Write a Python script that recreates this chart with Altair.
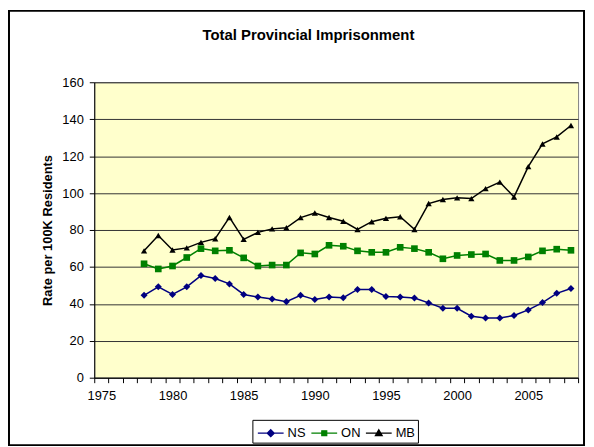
import altair as alt
import pandas as pd

years = list(range(1978, 2009))
series_names = ["NS", "ON", "MB"]
ns = [44.6, 49.2, 45.1, 49.2, 55.3, 53.7, 50.8, 45.1, 43.7, 42.6, 41.2, 44.6, 42.3, 43.7, 43.3, 47.8,
      47.8, 44.0, 43.7, 43.2, 40.5, 37.6, 37.6, 33.3, 32.3, 32.3, 33.7, 36.7, 40.7, 45.7, 48.3]
on = [61.7, 58.9, 60.5, 65.1, 69.9, 68.7, 69.0, 64.9, 60.5, 61.0, 61.0, 67.6, 67.0, 71.7, 71.2, 68.7,
      67.9, 67.9, 70.6, 69.9, 67.9, 64.4, 66.2, 66.7, 67.0, 63.5, 63.5, 65.4, 68.7, 69.6, 69.0]
mb = [68.7, 77.0, 69.2, 70.3, 73.3, 75.3, 86.8, 74.9, 78.7, 80.6, 81.2, 86.7, 89.2, 86.8, 84.7, 80.3,
      84.5, 86.3, 87.2, 80.3, 94.3, 96.5, 97.4, 97.0, 102.4, 105.9, 97.9, 114.3, 126.6, 130.4, 136.6]
y_ticks = [0, 20, 40, 60, 80, 100, 120, 140, 160]
x_first, x_last = 1975, 2008

colors = ["#000080", "#008000", "#000000"]
shapes = ["diamond", "square", "triangle-up"]
sizes = [50, 40, 64]
legend_paths = [
    "M-1,0H1M0,-0.27L0.27,0L0,0.27L-0.27,0Z",
    "M-1,0H1M-0.19,-0.19H0.19V0.19H-0.19Z",
    "M-1,0H1M0,-0.26L0.26,0.19H-0.26Z",
]
legend_x = [164, 218, 273]

rows = []
for name, vals in zip(series_names, [ns, on, mb]):
    for y, v in zip(years, vals):
        rows.append({"year": y, "series": name, "rate": v})
df = pd.DataFrame(rows)

boundaries = [x_first - 0.5 + i for i in range(x_last - x_first + 2)]
W, H = 488, 298
half = W / (x_last - x_first + 1) / 2

x_enc = alt.X(
    "year:Q",
    scale=alt.Scale(domain=[x_first - 0.5, x_last + 0.5], nice=False, zero=False),
    axis=alt.Axis(
        values=boundaries,
        labelExpr="(datum.value + 0.5) % 5 == 0 ? format(datum.value + 0.5, 'd') : ''",
        labelOffset=half,
        labelFlush=False,
        labelOverlap=False,
        tickSize=5,
        labelPadding=7,
        grid=False,
        title=None,
    ),
)
y_enc = alt.Y(
    "rate:Q",
    scale=alt.Scale(domain=[0, 160], nice=False),
    axis=alt.Axis(
        values=y_ticks,
        title="Rate per 100K Residents",
        titleFontWeight="bold",
        titleFontSize=13,
        titlePadding=7,
        tickSize=5,
        labelPadding=6,
        grid=True,
        gridColor="#333333",
    ),
)
color_enc = alt.Color("series:N", scale=alt.Scale(domain=series_names, range=colors), legend=None)

base = alt.Chart(df)
lines = base.mark_line(strokeWidth=1.5).encode(x=x_enc, y=y_enc, color=color_enc)
points = base.mark_point(filled=True, opacity=1).encode(
    x=x_enc, y=y_enc, color=color_enc,
    shape=alt.Shape("series:N", scale=alt.Scale(domain=series_names, range=shapes), legend=None),
    size=alt.Size("series:N", scale=alt.Scale(domain=series_names, range=sizes), legend=None),
)

legend_layers = []
for name, col, path, lx in zip(series_names, colors, legend_paths, legend_x):
    legend_layers.append(
        base.transform_filter(alt.datum.series == "__none__").mark_point(filled=True, opacity=1).encode(
            x=x_enc, y=y_enc,
            color=alt.Color(
                "series:N",
                scale=alt.Scale(domain=[name], range=[col]),
                legend=alt.Legend(
                    title=None, orient="none", legendX=lx, legendY=340, padding=0,
                    symbolType=path, symbolSize=676, symbolStrokeWidth=1.3,
                    symbolStrokeColor=col, symbolFillColor=col, symbolOpacity=1,
                    labelFontSize=13, labelFont="Liberation Sans", labelColor="#000000",
                    labelOffset=3,
                ),
            ),
        )
    )

frame = alt.Chart(alt.Data(values=[{}])).mark_rect(
    fill="#ffffff", fillOpacity=0, stroke="#000000", strokeWidth=2
).encode(x=alt.value(-86), x2=alt.value(494), y=alt.value(-72), y2=alt.value(366))
legend_box = alt.Chart(alt.Data(values=[{}])).mark_rect(
    fill="#ffffff", stroke="#000000", strokeWidth=1
).encode(x=alt.value(160), x2=alt.value(327), y=alt.value(341), y2=alt.value(364))

chart = alt.layer(frame, legend_box, lines, points, *legend_layers).resolve_scale(
    color="independent"
).properties(
    width=W, height=H,
    padding=0,
    background="#ffffff",
    title=alt.TitleParams(
        "Total Provincial Imprisonment", font="Liberation Sans", fontSize=15,
        fontWeight="bold", color="#000000", anchor="middle", dx=-28, dy=33, offset=0,
    ),
).configure_view(fill="#FFFFCC", stroke="#808080").configure_axis(
    labelFont="Liberation Sans", labelFontSize=13, labelColor="#000000",
    titleFont="Liberation Sans", titleColor="#000000",
    tickColor="#000000", domainColor="#000000",
)

chart.save("out.html", embed_options={"renderer": "svg", "actions": False})
